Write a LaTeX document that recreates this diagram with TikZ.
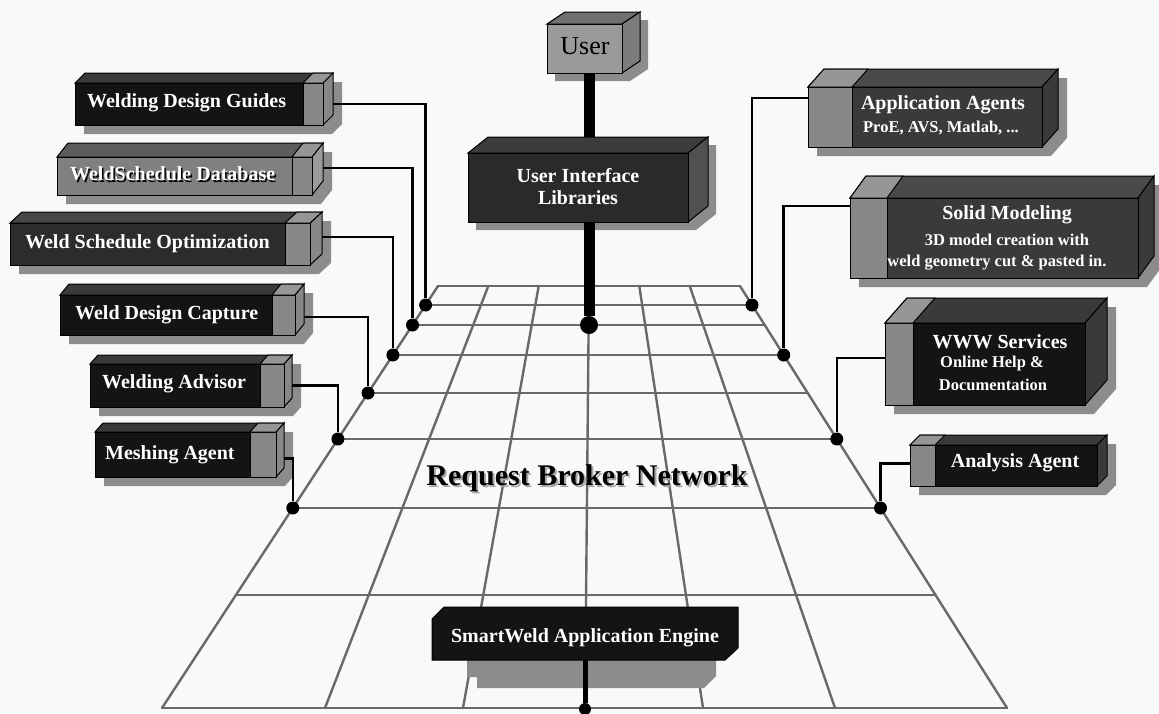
\documentclass[tikz,border=0pt]{standalone}
\usepackage{fontspec}
\setmainfont{Liberation Serif}
\usetikzlibrary{calc}
\pgfdeclarelayer{grid}
\pgfdeclarelayer{shadows}
\pgfdeclarelayer{wires}
\pgfsetlayers{grid,shadows,wires,main}

\definecolor{bgc}{RGB}{248,250,249}
\definecolor{gridc}{RGB}{105,105,105}
\definecolor{shadc}{RGB}{140,140,140}
\definecolor{capc}{RGB}{135,135,135}
\definecolor{capt}{RGB}{150,150,150}
\definecolor{blkf}{RGB}{20,20,20}
\definecolor{blkt}{RGB}{58,58,58}
\definecolor{midf}{RGB}{44,44,44}
\definecolor{midt}{RGB}{70,70,70}
\definecolor{gryf}{RGB}{128,128,128}
\definecolor{gryt}{RGB}{92,92,92}
\definecolor{gryc}{RGB}{155,155,155}
\definecolor{dgf}{RGB}{58,58,58}
\definecolor{dgt}{RGB}{74,74,74}
\definecolor{usrf}{RGB}{154,154,154}
\definecolor{usrt}{RGB}{112,112,112}
\definecolor{usrs}{RGB}{124,124,124}
\definecolor{uilf}{RGB}{42,42,42}
\definecolor{uilt}{RGB}{60,60,60}
\definecolor{uils}{RGB}{80,80,80}

\tikzset{
  boxline/.style={draw=black, line width=1pt},
  dkL front/.style={fill=blkf}, dkL top/.style={fill=blkt}, dkL side/.style={fill=capc},
  mdL front/.style={fill=midf}, mdL top/.style={fill=midt}, mdL side/.style={fill=capc},
  grL front/.style={fill=gryf}, grL top/.style={fill=gryt}, grL side/.style={fill=gryc},
  gyR front/.style={fill=dgf}, gyR top/.style={fill=dgt}, gyR side/.style={fill=dgf},
  bkR front/.style={fill=blkf}, bkR top/.style={fill=blkt}, bkR side/.style={fill=blkt},
  usr front/.style={fill=usrf}, usr top/.style={fill=usrt}, usr side/.style={fill=usrs},
  uil front/.style={fill=uilf}, uil top/.style={fill=uilt}, uil side/.style={fill=uils},
  lbl/.style={text=white, font=\bfseries\fontsize{20}{22}\selectfont, inner sep=0pt},
  sublbl/.style={text=white, font=\bfseries\fontsize{16.5}{18}\selectfont, inner sep=0pt},
  gridl/.style={draw=gridc, line width=2.4pt, line cap=round},
  wire/.style={draw=black, line width=2.5pt},
  pole/.style={draw=black, line width=11pt},
  thinpole/.style={draw=black, line width=5pt},
  jdot/.style={circle, fill=black, minimum size=13pt, inner sep=0pt},
}

% #1 x1 #2 y1 #3 x2 #4 y2 #5 dx #6 dy #7 look #8 name #9 shadow offset
\newcommand\solidbox[9]{%
  \begin{pgfonlayer}{shadows}
  \fill[shadc] (#1+#9,#2+#9) -- (#1+#5+#9,#2-#6+#9) -- (#3+#5+#9,#2-#6+#9)
     -- (#3+#5+#9,#4-#6+#9) -- (#3+#9,#4+#9) -- (#1+#9,#4+#9) -- cycle;
  \end{pgfonlayer}
  \filldraw[#7 top, boxline] (#1,#2) -- (#1+#5,#2-#6) -- (#3+#5,#2-#6) -- (#3,#2) -- cycle;
  \filldraw[#7 side, boxline] (#3,#2) -- (#3+#5,#2-#6) -- (#3+#5,#4-#6) -- (#3,#4) -- cycle;
  \node[#7 front, boxline, anchor=north west, inner sep=0pt, outer sep=0pt,
        minimum width={(#3-#1)*1pt}, minimum height={(#4-#2)*1pt}] (#8) at (#1,#2) {};
}
% lighter end block: #1 xa #2 y1 #3 xb #4 y2 #5 dx #6 dy
\newcommand\capblock[6]{%
  \filldraw[fill=capc, boxline] (#1,#2) rectangle (#3,#4);
  \filldraw[fill=capt, boxline] (#1,#2) -- (#1+#5,#2-#6) -- (#3+#5,#2-#6) -- (#3,#2) -- cycle;
}

\begin{document}
\begin{tikzpicture}[x=1pt,y=-1pt]
\useasboundingbox (0,0) rectangle (1159,713);
\begin{pgfonlayer}{grid}
  \fill[bgc] (0,0) rectangle (1159,713);
  \foreach \yy/\a/\b in {286/438/740, 305/425.6/752.0, 325/412.5/764.7, 355/392.9/783.7,
      393/368.0/807.7, 439/337.9/836.8, 508/292.8/880.5, 595/235.9/935.5, 708/162/1007}
    \draw[gridl] (\a,\yy) -- (\b,\yy);
  \foreach \t/\b in {438/162, 488.3/325, 538.7/463, 589/585, 639.3/703, 689.7/835, 740/1007}
    \draw[gridl] (\t,286) -- (\b,708);
\end{pgfonlayer}

% ---------- left boxes ----------
\solidbox{75}{83}{323}{125}{10}{10}{dkL}{wdg}{9}
\capblock{303}{83}{323}{125}{10}{10}
\node[lbl, anchor=west] (wdg-t) at (87,103) {Welding Design Guides};

\solidbox{57}{157}{312}{195}{11}{14}{grL}{wsd}{9}
\capblock{292}{157}{312}{195}{11}{14}
\node[lbl, anchor=west, text=black] (wsd-s) at (71.5,175.5) {WeldSchedule Database};
\node[lbl, anchor=west] (wsd-t) at (70,174) {WeldSchedule Database};

\solidbox{10}{223}{310}{265}{12}{11}{mdL}{wso}{9}
\capblock{285}{223}{310}{265}{12}{11}
\node[lbl, anchor=west] (wso-t) at (25,244) {Weld Schedule Optimization};

\solidbox{60}{295}{295}{335}{9}{11}{dkL}{wdc}{9}
\capblock{272}{295}{295}{335}{9}{11}
\node[lbl, anchor=west] (wdc-t) at (75,315) {Weld Design Capture};

\solidbox{90}{364}{284}{407}{8}{9}{dkL}{wa}{9}
\capblock{260}{364}{284}{407}{8}{9}
\node[lbl, anchor=west] (wa-t) at (102,384) {Welding Advisor};

\solidbox{95}{432}{276}{477}{8}{9}{dkL}{ma}{9}
\capblock{250}{432}{276}{477}{8}{9}
\node[lbl, anchor=west] (ma-t) at (105,455) {Meshing Agent};

% ---------- right boxes ----------
\solidbox{808}{87}{1042}{147}{16}{18}{gyR}{aa}{9}
\capblock{808}{87}{852}{147}{16}{18}
\node[lbl] (aa-t1) at (943,105) {Application Agents};
\node[sublbl] (aa-t2) at (941,128) {ProE, AVS, Matlab, ...};

\solidbox{850}{198}{1138}{278}{16}{22}{gyR}{sm}{9}
\capblock{850}{198}{887}{278}{16}{22}
\node[lbl] (sm-t1) at (1007,215) {Solid Modeling};
\node[sublbl] (sm-t2) at (1007,240) {3D model creation with};
\node[sublbl] (sm-t3) at (997,263) {weld geometry cut \& pasted in.};

\solidbox{885}{323}{1085}{405}{22}{25}{bkR}{www}{9}
\capblock{885}{323}{913}{405}{22}{25}
\node[lbl] (www-t1) at (1000,342) {WWW Services};
\node[sublbl] (www-t2) at (992,364) {Online Help \&};
\node[sublbl] (www-t3) at (993,385) {Documentation};

\solidbox{910}{445}{1097}{486}{10}{10}{bkR}{ana}{9}
\capblock{910}{445}{935}{486}{10}{10}
\node[lbl] (ana-t) at (1015,463) {Analysis Agent};

% ---------- centre ----------
\solidbox{547}{24}{622}{73}{18}{12}{usr}{user}{8}
\node[inner sep=0pt, font=\fontsize{26}{28}\selectfont] (user-t) at (585,46) {User};

\solidbox{468}{153}{688}{222}{20}{16}{uil}{uil}{8}
\node[lbl] (uil-t1) at (578,176) {User Interface};
\node[lbl] (uil-t2) at (578,198) {Libraries};

\begin{pgfonlayer}{shadows}
  \fill[shadc] (467,660) -- (716,660) -- (716,676) -- (704,688) -- (477,688) -- (477,677) -- (467,677) -- cycle;
\end{pgfonlayer}
\filldraw[fill=blkf, boxline] (432,619) -- (444,607) -- (738,607) -- (738,648) -- (725,660) -- (432,660) -- cycle;
\node[inner sep=0pt, outer sep=0pt, minimum width=306pt, minimum height=53pt] (sw) at (585,633.5) {};
\node[lbl] (sw-t) at (585,638) {SmartWeld Application Engine};

\node[font=\bfseries\fontsize{30}{32}\selectfont, text=gray!70, inner sep=0pt] (rbn-s) at (589,480) {Request Broker Network};
\node[font=\bfseries\fontsize{30}{32}\selectfont, text=black, inner sep=0pt] (rbn) at (587,478) {Request Broker Network};

% ---------- connectors ----------
\begin{pgfonlayer}{wires}
  \node[jdot] (dl1) at (425.6,305) {};
  \node[jdot] (dl2) at (412.5,325) {};
  \node[jdot] (dl3) at (392.9,355) {};
  \node[jdot] (dl4) at (368.0,393) {};
  \node[jdot] (dl5) at (337.9,439) {};
  \node[jdot] (dl6) at (292.8,508) {};
  \node[jdot] (dr1) at (752.0,305) {};
  \node[jdot] (dr2) at (783.7,355) {};
  \node[jdot] (dr3) at (836.8,439) {};
  \node[jdot] (dr4) at (880.5,508) {};
  \node[jdot, minimum size=18pt] (cd) at (589,325) {};
  \node[jdot, minimum size=12pt] (bd) at (585,709) {};

  \draw[wire] ([xshift=10pt]wdg.east) -| (dl1);
  \draw[wire] ([xshift=11pt,yshift=8pt]wsd.east) -| (dl2);
  \draw[wire] ([xshift=12pt,yshift=7pt]wso.east) -| (dl3);
  \draw[wire] ([xshift=9pt,yshift=-2pt]wdc.east) -| (dl4);
  \draw[wire] ([xshift=8pt]wa.east) -| (dl5);
  \draw[wire] ([xshift=8pt,yshift=-4pt]ma.east) -| (dl6);
  \draw[wire] ([yshift=19pt]aa.west) -| (dr1);
  \draw[wire] ([yshift=32pt]sm.west) -| (dr2);
  \draw[wire] ([yshift=6pt]www.west) -| (dr3);
  \draw[wire] ([yshift=2pt]ana.west) -| (dr4);

  \draw[pole] (user.south -| cd) -- (uil.north -| cd);
  \draw[pole] (uil.south -| cd) -- (cd);
  \draw[thinpole] (sw.south) -- (bd);
\end{pgfonlayer}
\end{tikzpicture}
\end{document}
